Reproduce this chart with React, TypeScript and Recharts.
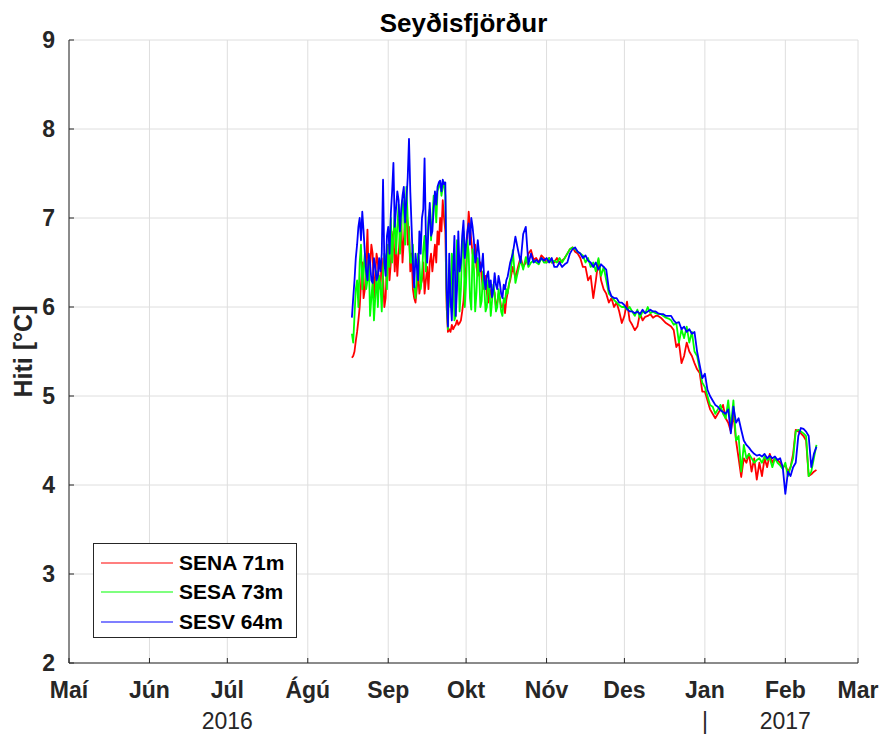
import React from 'react';
import { LineChart, Line, XAxis, YAxis, CartesianGrid, Legend } from 'recharts';

// Day index counted from 1 May 2016; daily samples start 18 Aug 2016 (day 109)
const startDay = 109;
// Extra half-day samples in the noisy late-summer period (day 109.5 ... 169.5)
const midStartDay = 109.5;

const sena71 = [
  5.43, 5.5, 5.72, 6.0, 6.5, 6.2, 6.87, 6.45, 6.6, 6.35,
  6.5, 6.2, 6.35, 6.1, 6.7, 6.5, 6.85, 6.7, 6.6, 7.0,
  6.75, 7.15, 6.9, 6.6, 6.1, 6.2, 6.15, 6.3, 6.15, 6.45,
  6.5, 6.4, 6.7, 6.85, 7.0, 7.2, 6.85, 5.72, 5.72, 5.75,
  5.8, 5.8, 5.85, 6.07, 6.45, 7.07, 6.75, 6.56, 6.45, 6.4,
  6.33, 6.25, 6.16, 6.22, 6.1, 6.16, 6.05, 6.1, 6.0, 5.93,
  6.16, 6.3, 6.45, 6.33, 6.45, 6.56, 6.45, 6.5, 6.6, 6.64,
  6.53, 6.55, 6.5, 6.58, 6.55, 6.5, 6.55, 6.5, 6.5, 6.55,
  6.5, 6.52, 6.55, 6.6, 6.65, 6.67, 6.62, 6.6, 6.55, 6.45,
  6.45, 6.3, 6.35, 6.1, 6.3, 6.53, 6.3, 6.2, 6.15, 6.05,
  6.1, 6.0, 6.05, 5.95, 5.82, 5.9, 6.06, 5.85, 5.8, 5.74,
  5.78, 5.93, 5.85, 5.89, 5.9, 5.92, 5.88, 5.9, 5.9, 5.88,
  5.85, 5.82, 5.8, 5.78, 5.74, 5.55, 5.6, 5.37, 5.45, 5.6,
  5.5, 5.45, 5.37, 5.3, 5.26, 5.05, 5.05, 4.95, 4.85, 4.8,
  4.75, 4.8, 4.85, 4.9, 4.75, 4.7, 4.6, 4.8, 4.5, 4.3,
  4.09, 4.3, 4.25, 4.35, 4.15, 4.3, 4.06, 4.25, 4.1, 4.3,
  4.2, 4.35, 4.25, 4.3, 4.28, 4.25, 4.2, 4.22, 4.15, 4.2,
  4.35, 4.62, 4.6, 4.58, 4.55, 4.5, 4.1, 4.12, 4.15, 4.17,
];
const sena71Mid = [
  5.45, 5.62, 5.85, 6.25, 6.1, 6.5, 6.3, 6.7, 6.1, 6.6,
  6.25, 6.55, 6.0, 6.5, 6.3, 6.75, 6.4, 6.35, 6.8, 6.5,
  6.95, 6.7, 6.4, 6.2, 6.05, 6.4, 6.25, 6.5, 6.3, 6.2,
  6.6, 6.55, 6.5, 6.7, 6.85, 7.0, 6.0, 5.75, 5.8, 5.78,
  5.85, 5.82, 5.95, 6.3, 6.8, 6.9, 6.6, 6.7, 6.35, 6.5,
  6.2, 6.35, 6.05, 6.15, 6.2, 6.0, 6.15, 6.0, 6.05, 6.08,
  6.25,
];

const sesa73 = [
  5.7, 5.9, 6.3, 6.5, 6.2, 6.6, 6.3, 5.9, 6.3, 6.1,
  6.0, 6.25, 6.4, 6.55, 6.7, 7.0, 6.8, 6.6, 7.15, 6.9,
  7.1, 7.35, 6.8, 6.5, 6.25, 6.3, 6.5, 6.35, 6.8, 6.7,
  7.1, 7.0, 7.2, 7.3, 7.4, 7.35, 7.25, 5.75, 6.0, 6.45,
  5.9, 6.6, 6.2, 6.85, 6.27, 6.6, 5.97, 6.45, 6.16, 6.4,
  6.07, 6.22, 6.0, 6.2, 6.07, 6.15, 6.0, 6.1, 5.9, 6.05,
  6.15, 6.33, 6.64, 6.27, 6.4, 6.53, 6.42, 6.56, 6.45, 6.5,
  6.52, 6.5, 6.48, 6.55, 6.5, 6.5, 6.55, 6.5, 6.52, 6.5,
  6.55, 6.5, 6.55, 6.6, 6.65, 6.67, 6.65, 6.62, 6.6, 6.58,
  6.5, 6.55, 6.45, 6.5, 6.4, 6.55, 6.35, 6.45, 6.3, 6.15,
  6.12, 6.08, 6.05, 6.02, 6.0, 6.0, 5.97, 6.0, 5.95, 5.9,
  5.97, 5.88, 5.95, 5.93, 6.0, 5.93, 5.95, 5.93, 5.92, 5.92,
  5.9, 5.88, 5.87, 5.85, 5.8, 5.82, 5.6, 5.75, 5.65, 5.78,
  5.6, 5.72, 5.5, 5.45, 5.3, 5.15, 5.1, 5.0, 4.9, 4.88,
  4.8, 4.85, 4.9, 4.8, 4.75, 4.95, 4.65, 4.95, 4.5, 4.55,
  4.15, 4.45, 4.3, 4.35, 4.3, 4.25, 4.28, 4.3, 4.25, 4.32,
  4.28, 4.3, 4.2, 4.3, 4.25, 4.22, 4.18, 4.25, 4.1, 4.2,
  4.3, 4.6, 4.62, 4.6, 4.58, 4.55, 4.1, 4.15, 4.3, 4.45,
];
const sesa73Mid = [
  5.6, 6.2, 6.0, 6.7, 6.45, 6.2, 6.55, 6.1, 5.85, 6.4,
  6.35, 5.95, 6.6, 6.2, 6.45, 6.5, 7.05, 6.9, 6.6, 7.2,
  6.7, 7.0, 6.5, 6.7, 6.1, 6.6, 6.2, 6.65, 6.4, 7.0,
  6.75, 7.25, 6.95, 7.35, 7.25, 7.4, 6.1, 6.4, 6.6, 5.85,
  6.75, 5.95, 6.7, 6.0, 6.75, 6.1, 6.65, 5.95, 6.55, 6.0,
  6.4, 5.95, 6.3, 5.9, 6.25, 5.95, 6.2, 5.95, 6.1, 6.2,
  6.25,
];

const sesv64 = [
  5.88, 6.3, 6.7, 7.0, 7.07, 6.6, 6.3, 6.5, 6.27, 6.45,
  6.35, 6.4, 7.43, 6.35, 6.9, 7.05, 7.62, 7.1, 7.2, 7.1,
  7.35, 7.2, 7.89, 6.9, 6.22, 6.45, 6.85, 7.0, 7.67, 6.5,
  7.17, 6.85, 7.3, 7.35, 7.42, 7.43, 7.4, 5.78, 6.1, 6.4,
  5.9, 6.85, 6.5, 6.97, 6.7, 6.94, 7.0, 6.75, 6.56, 6.6,
  6.45, 6.3, 6.35, 6.22, 6.11, 6.38, 6.2, 6.27, 6.1, 6.2,
  6.34, 6.5, 6.6, 6.79, 6.64, 6.5, 6.82, 6.9, 6.48, 6.6,
  6.5, 6.53, 6.5, 6.55, 6.52, 6.55, 6.5, 6.55, 6.45, 6.45,
  6.5, 6.45, 6.48, 6.5, 6.6, 6.65, 6.67, 6.62, 6.6, 6.55,
  6.58, 6.52, 6.5, 6.45, 6.5, 6.42, 6.48, 6.45, 6.42, 6.2,
  6.12, 6.1, 6.1, 6.05, 6.05, 6.02, 5.98, 5.95, 5.95, 5.93,
  5.95, 5.92, 5.97, 5.93, 5.95, 5.97, 5.95, 5.95, 5.93, 5.92,
  5.92, 5.9, 5.9, 5.9, 5.85, 5.82, 5.83, 5.75, 5.78, 5.72,
  5.75, 5.7, 5.72, 5.5, 5.35, 5.2, 5.25, 5.07, 5.0, 4.95,
  4.9, 4.88, 4.84, 4.82, 4.8, 4.85, 4.58, 4.88, 4.7, 4.75,
  4.62, 4.5, 4.45, 4.42, 4.38, 4.35, 4.33, 4.34, 4.32, 4.35,
  4.3, 4.33, 4.3, 4.32, 4.28, 4.3, 4.2, 3.9, 4.15, 4.1,
  4.2, 4.25, 4.55, 4.64, 4.63, 4.6, 4.55, 4.2, 4.35, 4.43,
];
const sesv64Mid = [
  6.1, 6.55, 6.9, 6.75, 6.85, 6.4, 6.6, 6.3, 6.55, 6.3,
  6.55, 6.6, 6.5, 6.8, 6.6, 7.3, 6.9, 7.3, 6.85, 7.25,
  6.95, 7.45, 7.3, 6.5, 6.6, 6.3, 6.6, 7.1, 6.8, 6.9,
  6.8, 7.1, 7.15, 7.4, 7.3, 7.38, 6.2, 6.6, 5.85, 6.8,
  6.2, 6.4, 6.8, 6.55, 6.85, 6.7, 6.9, 6.5, 6.75, 6.4,
  6.6, 6.2, 6.4, 6.3, 6.2, 6.25, 6.35, 6.15, 6.25, 6.3,
  6.42,
];

const monthTicks = [0, 31, 61, 92, 123, 153, 184, 214, 245, 276, 304];
const monthLabels = ['Maí', 'Jún', 'Júl', 'Ágú', 'Sep', 'Okt', 'Nóv', 'Des', 'Jan', 'Feb', 'Mar'];
const yearLabels = ['', '', '2016', '', '', '', '', '', '|', '2017', ''];
const yTicks = [2, 3, 4, 5, 6, 7, 8, 9];
const seriesKeys = ['sena', 'sesa', 'sesv'];
const seriesNames = ['SENA 71m', 'SESA 73m', 'SESV 64m'];
const seriesColors = ['#ff0000', '#00ff00', '#0000ff'];
const titleText = 'Seyðisfjörður';
const yLabelText = 'Hiti [°C]';

const dailyRows = sena71.map((v, i) => ({
  day: startDay + i,
  sena: v,
  sesa: sesa73[i],
  sesv: sesv64[i],
}));
const midRows = sena71Mid.map((v, i) => ({
  day: midStartDay + i,
  sena: v,
  sesa: sesa73Mid[i],
  sesv: sesv64Mid[i],
}));
const data = [...dailyRows, ...midRows].sort((a, b) => a.day - b.day);

const FONT = '"Liberation Sans", Arial, Helvetica, sans-serif';
const AXIS = '#262626';

const XTick = (props: any) => {
  const { x, y, payload } = props;
  const i = monthTicks.indexOf(payload.value);
  return (
    <g>
      <text x={x} y={y + 40} textAnchor="middle" fontFamily={FONT} fontSize={23} fontWeight="bold" fill={AXIS}>
        {monthLabels[i]}
      </text>
      {yearLabels[i] ? (
        <text x={x} y={y + 71} textAnchor="middle" fontFamily={FONT} fontSize={23} fill={AXIS}>
          {yearLabels[i]}
        </text>
      ) : null}
    </g>
  );
};

const LegendBox = () => (
  <div
    style={{
      border: '1px solid ' + AXIS,
      background: '#fff',
      width: 204,
      height: 95,
      boxSizing: 'border-box',
      paddingTop: 4,
      fontFamily: FONT,
    }}
  >
    {seriesNames.map((n, i) => (
      <div key={n} style={{ display: 'flex', alignItems: 'center', height: 29.5 }}>
        <svg width={80} height={4} style={{ display: 'block' }}>
          <line x1={7} x2={79} y1={2} y2={2} stroke={seriesColors[i]} strokeWidth={1.1} />
        </svg>
        <span style={{ marginLeft: 5, fontSize: 21, fontWeight: 'bold', color: '#000', lineHeight: '24px' }}>{n}</span>
      </div>
    ))}
  </div>
);

const emptyFmt = () => '';

export default function App() {
  return (
    <div style={{ position: 'absolute', left: 0, top: 0, width: 883, height: 736, background: '#fff' }}>
      <LineChart width={883} height={736} data={data} margin={{ top: 40, right: 25, bottom: 0, left: 0 }}>
        <CartesianGrid xAxisId="b" yAxisId="l" stroke="#dedede" strokeWidth={1} />
        <XAxis
          xAxisId="b"
          dataKey="day"
          type="number"
          domain={[0, 304]}
          ticks={monthTicks}
          allowDataOverflow
          height={73}
          tickSize={-5}
          tickMargin={0}
          tickLine={{ stroke: AXIS }}
          axisLine={{ stroke: AXIS, strokeWidth: 1 }}
          tick={XTick}
          interval={0}
        />
        <XAxis
          xAxisId="t"
          dataKey="day"
          type="number"
          domain={[0, 304]}
          ticks={monthTicks}
          allowDataOverflow
          orientation="top"
          height={0}
          tickSize={-5}
          axisLine={{ stroke: AXIS, strokeWidth: 1 }}
          tickLine={{ stroke: AXIS }}
          tickFormatter={emptyFmt}
          interval={0}
        />
        <YAxis
          yAxisId="l"
          type="number"
          domain={[2, 9]}
          ticks={yTicks}
          allowDataOverflow
          width={69}
          tickSize={-5}
          tickMargin={19}
          tickLine={{ stroke: AXIS }}
          axisLine={{ stroke: AXIS, strokeWidth: 1 }}
          tick={{ fontFamily: FONT, fontSize: 23, fontWeight: 'bold', fill: AXIS }}
          interval={0}
        />
        <YAxis
          yAxisId="r"
          type="number"
          domain={[2, 9]}
          ticks={yTicks}
          allowDataOverflow
          orientation="right"
          width={0}
          tickSize={-5}
          axisLine={{ stroke: AXIS, strokeWidth: 1 }}
          tickLine={{ stroke: AXIS }}
          tickFormatter={emptyFmt}
          interval={0}
        />
        {seriesKeys.map((k, i) => (
          <Line
            key={k}
            xAxisId="b"
            yAxisId="l"
            dataKey={k}
            name={seriesNames[i]}
            type="linear"
            stroke={seriesColors[i]}
            strokeWidth={1.8}
            strokeLinejoin="round"
            dot={false}
            activeDot={false}
            isAnimationActive={false}
          />
        ))}
        <Legend
          layout="vertical"
          align="center"
          verticalAlign="middle"
          content={LegendBox}
          wrapperStyle={{ position: 'absolute', left: 93, top: 543, width: 204, height: 95 }}
        />
      </LineChart>
      <svg
        width={883}
        height={736}
        style={{ position: 'absolute', left: 0, top: 0, pointerEvents: 'none' }}
      >
        <text x={463.5} y={32} textAnchor="middle" fontFamily={FONT} fontSize={26} fontWeight="bold" fill="#000">
          {titleText}
        </text>
        <text
          x={32}
          y={351.5}
          transform="rotate(-90 32 351.5)"
          textAnchor="middle"
          fontFamily={FONT}
          fontSize={25}
          fontWeight="bold"
          fill={AXIS}
        >
          {yLabelText}
        </text>
      </svg>
    </div>
  );
}
